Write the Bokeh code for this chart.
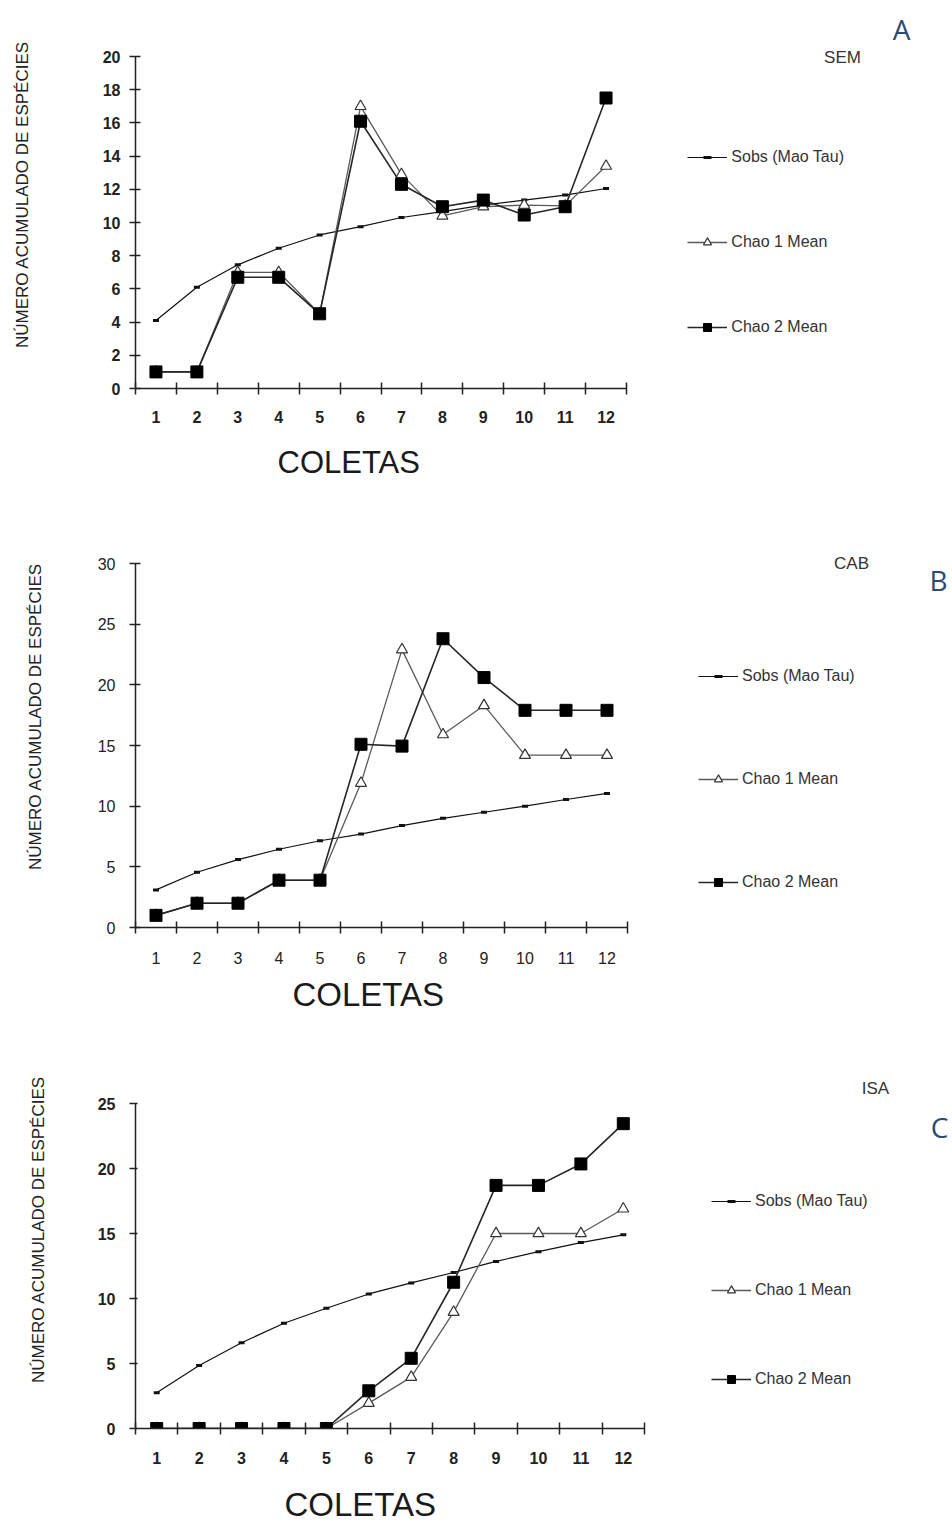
from bokeh.plotting import figure
from bokeh.layouts import column
from bokeh.models import Range1d, FixedTicker, Label, Legend, LegendItem, Title
from bokeh.embed import file_html
from bokeh.resources import INLINE

# Sampling events (coletas) and species-accumulation estimates per site
coletas = list(range(1, 13))

sem_sobs = [4.1, 6.1, 7.45, 8.45, 9.25, 9.75, 10.3, 10.65, 11.05, 11.35, 11.65, 12.05]
sem_chao1 = [1.0, 1.0, 7.0, 7.0, 4.5, 17.0, 12.9, 10.4, 10.95, 11.05, 11.0, 13.4]
sem_chao2 = [1.0, 1.0, 6.7, 6.7, 4.5, 16.1, 12.3, 10.95, 11.35, 10.45, 10.95, 17.5]

cab_sobs = [3.1, 4.55, 5.6, 6.45, 7.15, 7.7, 8.4, 9.0, 9.5, 10.0, 10.55, 11.05]
cab_chao1 = [1.0, 2.0, 2.0, 3.9, 3.9, 11.9, 22.9, 15.9, 18.3, 14.2, 14.2, 14.2]
cab_chao2 = [1.0, 2.0, 2.0, 3.9, 3.9, 15.1, 14.95, 23.8, 20.6, 17.9, 17.9, 17.9]

isa_sobs = [2.75, 4.85, 6.6, 8.1, 9.25, 10.35, 11.2, 12.0, 12.85, 13.6, 14.3, 14.9]
isa_chao1 = [0, 0, 0, 0, 0, 1.95, 3.95, 8.95, 15.0, 15.0, 15.0, 16.9]
isa_chao2 = [0, 0, 0, 0, 0, 2.9, 5.4, 11.25, 18.7, 18.7, 20.35, 23.45]

sem_y_ticks = list(range(0, 21, 2))
cab_y_ticks = list(range(0, 31, 5))
isa_y_ticks = list(range(0, 26, 5))

series_labels = ["Sobs (Mao Tau)", "Chao 1 Mean", "Chao 2 Mean"]
y_title = "NÚMERO ACUMULADO DE ESPÉCIES"
x_title = "COLETAS"

PAGE_W = 952
FONT = "Liberation Sans"
INK = "#222222"


def make_panel(sobs, chao1, chao2, y_ticks, site, letter, g):
    # The frame spans everything right of the y axis and above the x axis,
    # so the legend and panel labels sit inside it; the axes are bounded to
    # the data extent.
    frame_w = PAGE_W - g["left"]
    frame_h = g["axis_top"] + g["axis_h"]
    x0, x1 = coletas[0] - 0.5, coletas[-1] + 0.5
    px_per_x = g["axis_w"] / (x1 - x0)
    y0, y1 = y_ticks[0], y_ticks[-1]
    px_per_y = g["axis_h"] / (y1 - y0)

    p = figure(
        frame_width=frame_w, frame_height=frame_h,
        min_border_left=g["left"], min_border_right=0,
        min_border_top=0, min_border_bottom=g["h"] - frame_h,
        x_range=Range1d(x0, x0 + frame_w / px_per_x),
        y_range=Range1d(y0, y0 + frame_h / px_per_y),
        output_backend="svg", toolbar_location=None,
    )
    p.outline_line_color = None
    p.grid.visible = False
    p.background_fill_color = "white"
    p.border_fill_color = "white"

    # x axis: labels on each sample, tick marks between samples
    xa = p.xaxis[0]
    xa.bounds = (x0, x1)
    xa.ticker = FixedTicker(ticks=coletas,
                            minor_ticks=[c - 0.5 for c in coletas] + [x1])
    xa.major_tick_line_color = None
    xa.minor_tick_line_color = INK
    xa.minor_tick_line_width = 1.5
    xa.minor_tick_in = 6
    xa.minor_tick_out = 6
    xa.axis_line_color = INK
    xa.axis_line_width = 1.5
    xa.major_label_standoff = g["xstand"]
    xa.major_label_text_font = FONT
    xa.major_label_text_font_size = "16px"
    xa.major_label_text_font_style = g["tickstyle"]
    xa.major_label_text_color = INK

    ya = p.yaxis[0]
    ya.bounds = (y0, y1)
    ya.ticker = FixedTicker(ticks=y_ticks)
    ya.minor_tick_line_color = None
    ya.major_tick_line_color = INK
    ya.major_tick_line_width = 1.5
    ya.major_tick_in = g["yin"]
    ya.major_tick_out = 6
    ya.axis_line_color = INK
    ya.axis_line_width = 1.5
    ya.major_label_standoff = g["ystand"]
    ya.major_label_text_font = FONT
    ya.major_label_text_font_size = "16px"
    ya.major_label_text_font_style = g["tickstyle"]
    ya.major_label_text_color = INK
    ya.axis_label = y_title
    ya.axis_label_text_font = FONT
    ya.axis_label_text_font_size = "17px"
    ya.axis_label_text_font_style = "normal"
    ya.axis_label_text_color = INK
    ya.axis_label_standoff = g["lstand"]

    p.add_layout(Title(text=x_title, align="left", offset=g["xlab_off"],
                       standoff=g["xlab_stand"], text_font=FONT,
                       text_font_size=g["xlabsize"], text_font_style="normal",
                       text_color="#1a1a1a"), "below")

    l_sobs = p.line(coletas, sobs, line_color="#111111", line_width=1.2)
    s_sobs = p.scatter(coletas, sobs, marker="dash", size=6, line_color="#111111",
                       line_width=3)
    l_c1 = p.line(coletas, chao1, line_color="#5a5a5a", line_width=1.3)
    s_c1 = p.scatter(coletas, chao1, marker="triangle", size=11, fill_color="white",
                     line_color="#333333", line_width=1.2)
    l_c2 = p.line(coletas, chao2, line_color="#262626", line_width=1.6)
    s_c2 = p.scatter(coletas, chao2, marker="square", size=12, fill_color="black",
                     line_color="black")

    legend = Legend(
        items=[LegendItem(label=series_labels[0], renderers=[l_sobs, s_sobs]),
               LegendItem(label=series_labels[1], renderers=[l_c1, s_c1]),
               LegendItem(label=series_labels[2], renderers=[l_c2, s_c2])],
        location=g["leg"], spacing=g["legsp"], padding=0, margin=0,
        border_line_alpha=0, background_fill_alpha=0,
        glyph_width=40, glyph_height=20, label_height=20, label_standoff=4,
        label_text_font=FONT, label_text_font_size="16px", label_text_color="#333333",
    )
    p.add_layout(legend)

    p.add_layout(Label(x=g["site"][0], y=g["site"][1], x_units="screen", y_units="screen",
                       text=site, text_align="center", text_baseline="middle",
                       text_font=FONT, text_font_size="17px", text_color="#333333"))
    p.add_layout(Label(x=g["letter"][0], y=g["letter"][1], x_units="screen", y_units="screen",
                       text=letter, text_align="center", text_baseline="middle",
                       text_font="Open Sans", text_font_size="28px", text_color="#2E4A70"))
    return p


pA = make_panel(sem_sobs, sem_chao1, sem_chao2, sem_y_ticks, "SEM", "A",
                dict(left=130, axis_w=491, axis_top=56, axis_h=332, h=505,
                     xstand=16, ystand=9, yin=5, lstand=68, tickstyle="bold",
                     leg=(560, 51), legsp=65, site=(707, 331), letter=(766, 360),
                     xlab_off=142, xlab_stand=34, xlabsize="31px"))
pB = make_panel(cab_sobs, cab_chao1, cab_chao2, cab_y_ticks, "CAB", "B",
                dict(left=135, axis_w=492, axis_top=58, axis_h=364, h=525,
                     xstand=18, ystand=14, yin=5, lstand=50, tickstyle="normal",
                     leg=(563, 35), legsp=83, site=(716, 364), letter=(803, 348),
                     xlab_off=157, xlab_stand=14, xlabsize="33px"))
pC = make_panel(isa_sobs, isa_chao1, isa_chao2, isa_y_ticks, "ISA", "C",
                dict(left=134, axis_w=509, axis_top=73, axis_h=325, h=492,
                     xstand=17, ystand=14, yin=2, lstand=47, tickstyle="bold",
                     leg=(593, 39), legsp=69, site=(740, 340), letter=(804, 302),
                     xlab_off=149, xlab_stand=35, xlabsize="33px"))

page = column(pA, pB, pC, spacing=0)
open("out.html", "w").write(file_html(page, INLINE))
